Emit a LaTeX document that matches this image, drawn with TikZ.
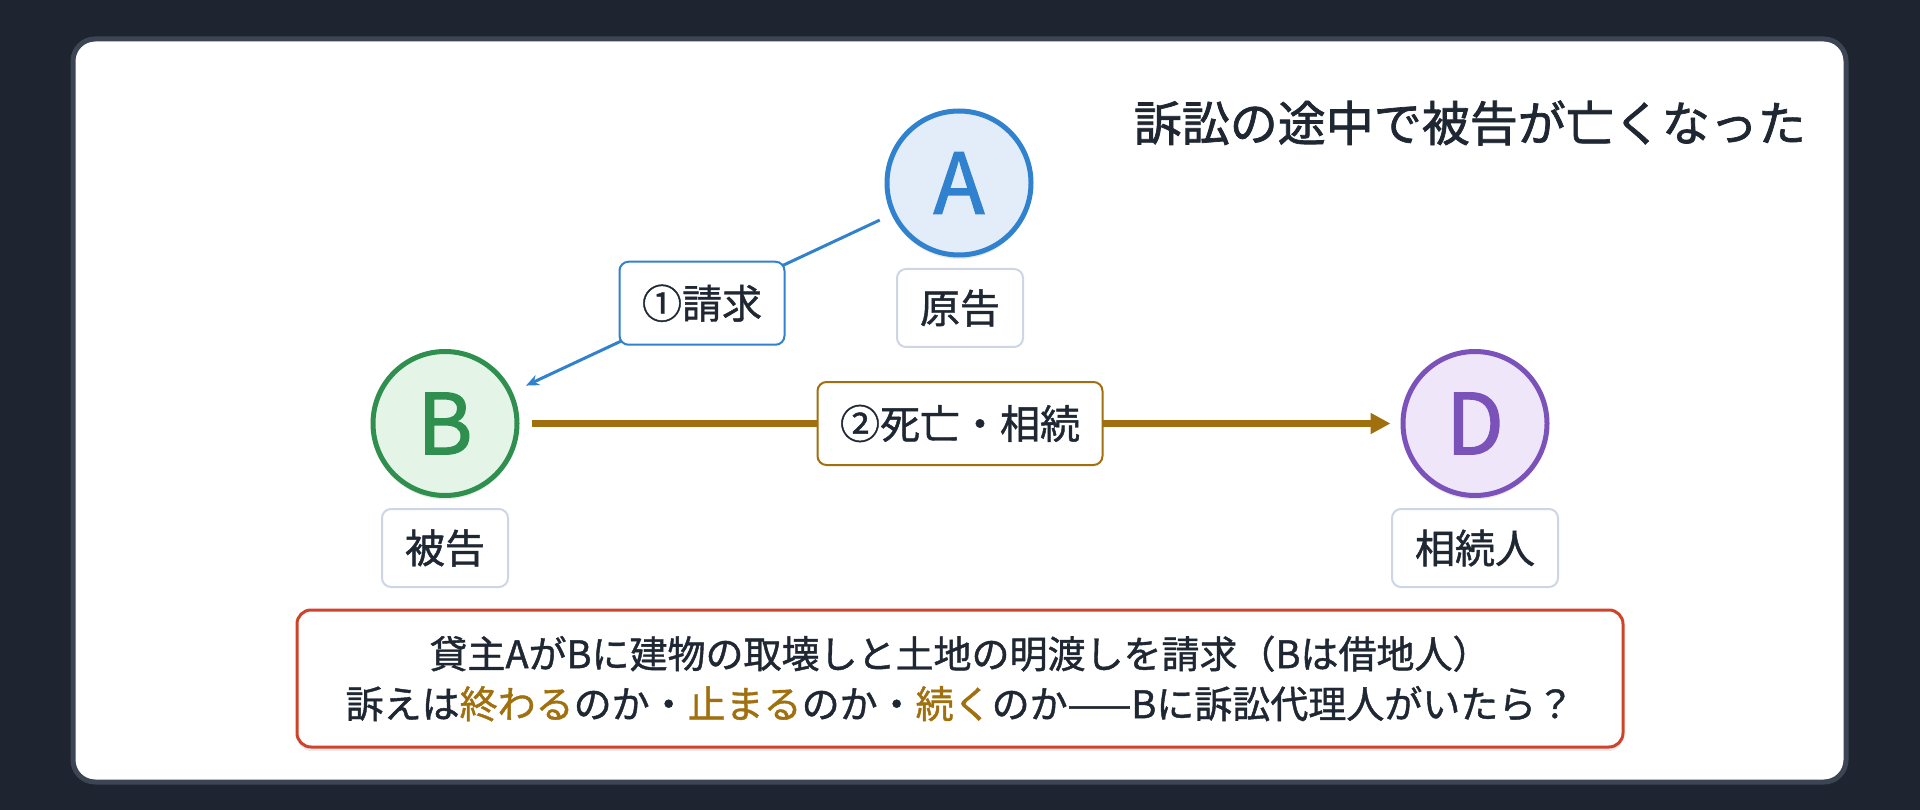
\documentclass[tikz,border=0pt]{standalone}
\usepackage{fontspec}
\setmainfont{Noto Sans CJK JP}[FakeBold=1.1]
\newfontfamily\letterfont{Noto Sans CJK JP}[FakeBold=1.6]
\newfontfamily\titlefont{Noto Sans CJK JP}[FakeBold=1.5]
\usetikzlibrary{arrows.meta,shadows}
\definecolor{bgdark}{HTML}{1E2430}
\definecolor{cardborder}{HTML}{3B4554}
\definecolor{ctext}{HTML}{1F2733}
\definecolor{cblue}{HTML}{3182CE}
\definecolor{cbluefill}{HTML}{E3EDFA}
\definecolor{cgreen}{HTML}{2F8F4E}
\definecolor{cgreenfill}{HTML}{E4F5E8}
\definecolor{cpurple}{HTML}{7B52B9}
\definecolor{cpurplefill}{HTML}{EFE6FA}
\definecolor{cbrown}{HTML}{A0700F}
\definecolor{cred}{HTML}{D0432B}
\definecolor{clabel}{HTML}{CDD6E2}
\begin{document}
\begin{tikzpicture}[x=1pt,y=-1pt,
  softshadow/.style={drop shadow={shadow xshift=0pt,shadow yshift=-4pt,opacity=0.08,fill=black}},
  actor/.style={circle,minimum size=144pt,line width=5pt,inner sep=0pt,softshadow,
    font=\letterfont\fontsize{84}{84}\selectfont},
  rolebox/.style={draw=clabel,line width=2pt,fill=white,rounded corners=9pt,
    minimum height=78pt,inner xsep=23pt,inner ysep=0pt,text=ctext,
    font=\fontsize{40}{40}\selectfont},
  edgebox/.style={line width=2pt,fill=white,rounded corners=9pt,
    minimum height=83pt,inner xsep=22.5pt,inner ysep=0pt,text=ctext,
    font=\fontsize{40}{40}\selectfont},
  hl/.style={text=cbrown}
]
\useasboundingbox (0,0) rectangle (1920,810);
\fill[bgdark] (0,0) rectangle (1920,810);
\draw[cardborder,line width=5pt,fill=white,rounded corners=22pt] (73,39) rectangle (1846,782);

\node[anchor=east,inner sep=0pt,text=ctext,font=\titlefont\fontsize{48}{48}\selectfont] (title) at (1806,123) {訴訟の途中で被告が亡くなった};

\node[actor,draw=cblue,fill=cbluefill,text=cblue] (A) at (959,183) {A};
\node[actor,draw=cgreen,fill=cgreenfill,text=cgreen] (B) at (445,423.5) {B};
\node[actor,draw=cpurple,fill=cpurplefill,text=cpurple] (D) at (1475,423.5) {D};

\node[rolebox] (Alabel) at (960,308) {原告};
\node[rolebox] (Blabel) at (445,548) {被告};
\node[rolebox] (Dlabel) at (1475,548) {相続人};

\draw[cblue,line width=3pt,-{Stealth[length=13pt,width=11pt]},shorten <=13pt,shorten >=15pt]
  (A) -- node[edgebox,draw=cblue,pos=0.5] (req) {①請求} (B);

\draw[cbrown,line width=6.5pt,-{Triangle[length=20pt,width=20pt]},shorten <=12pt,shorten >=10pt]
  (B) -- node[edgebox,draw=cbrown,pos=0.5] (death) {②死亡・相続} (D);

\node[draw=cred,line width=3pt,fill=white,rounded corners=14pt,softshadow,
  minimum width=1326pt,minimum height=137pt,inner sep=0pt,align=center,text=ctext,
  font=\fontsize{38}{50}\selectfont] (note) at (960,678.5)
  {貸主AがBに建物の取壊しと土地の明渡しを請求（Bは借地人）\\
   訴えは{\color{cbrown}終わる}のか・{\color{cbrown}止まる}のか・{\color{cbrown}続く}のか——Bに訴訟代理人がいたら？};
\end{tikzpicture}
\end{document}
